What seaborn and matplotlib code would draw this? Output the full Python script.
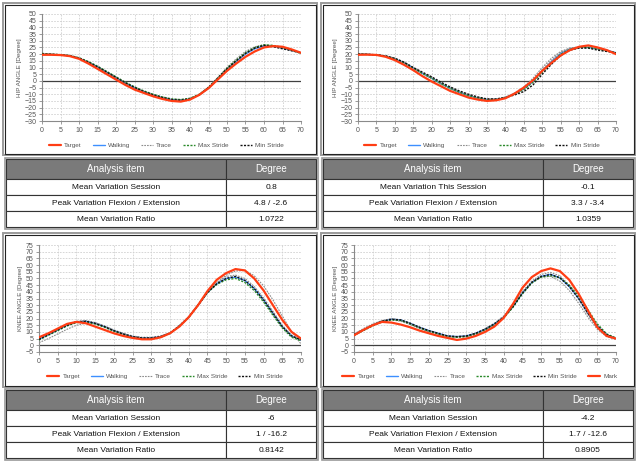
import numpy as np
import pandas as pd
import matplotlib
matplotlib.use("Agg")
import matplotlib.pyplot as plt
from matplotlib.patches import Rectangle
from matplotlib.lines import Line2D
import seaborn as sns

# Eixo X comum (0 a 70, passo 2.5)
x = np.arange(0, 70.1, 2.5)

# ---- HIP esquerdo ----
hip1_target = [19.5, 19.5, 19.3, 18.5, 16.5, 13.0, 9.0, 5.0, 1.0, -3.0, -6.5, -9.0, -11.5, -13.5, -15.0,
               -15.5, -14.0, -10.5, -5.5, 1.0, 7.5, 13.0, 18.0, 22.0, 25.0, 26.0, 25.5, 23.5, 21.0]
hip1_walking = [20.0, 19.8, 19.5, 18.8, 17.0, 14.0, 10.5, 6.5, 2.5, -1.5, -5.0, -8.0, -10.5, -12.5, -14.0,
                -14.5, -13.5, -10.5, -5.5, 1.5, 8.5, 14.5, 20.0, 24.0, 26.0, 26.0, 24.5, 23.0, 21.0]
hip1_trace_a = [20.0, 19.8, 19.5, 18.8, 17.0, 13.8, 10.0, 6.0, 2.0, -2.0, -5.5, -8.5, -11.0, -13.0, -14.5,
                -15.0, -13.8, -10.5, -5.5, 1.5, 9.0, 15.0, 20.5, 24.5, 26.5, 26.5, 25.0, 23.0, 21.0]
hip1_trace_b = [20.3, 20.0, 19.6, 19.0, 17.2, 14.3, 10.8, 7.0, 3.0, -1.0, -4.5, -7.5, -10.0, -12.0, -13.5,
                -14.0, -13.0, -10.0, -4.5, 2.5, 10.0, 16.5, 22.0, 25.5, 27.0, 26.0, 24.5, 22.5, 20.5]
hip1_max = [20.5, 20.0, 19.6, 19.0, 17.3, 14.5, 11.0, 7.0, 3.0, -1.0, -4.5, -7.5, -10.0, -12.0, -13.5,
            -14.0, -13.0, -10.0, -5.0, 2.0, 9.5, 15.5, 21.0, 25.0, 27.0, 26.5, 25.0, 23.0, 20.5]
hip1_min = [20.0, 19.8, 19.4, 18.7, 17.0, 14.0, 10.5, 6.5, 2.5, -1.5, -5.0, -8.0, -10.5, -12.5, -14.0,
            -14.5, -13.5, -10.5, -5.0, 2.0, 9.0, 15.0, 20.5, 24.5, 26.5, 25.5, 24.0, 22.5, 21.0]

# ---- HIP direito ----
hip2_target = [19.5, 19.6, 19.4, 18.0, 15.5, 12.0, 8.0, 3.5, -0.5, -4.0, -7.5, -10.0, -12.5, -14.0, -15.0,
               -14.5, -13.0, -9.5, -5.0, 0.5, 7.5, 13.5, 19.0, 23.0, 25.5, 26.5, 25.0, 23.0, 20.0]
hip2_walking = [20.0, 19.8, 19.4, 18.5, 16.5, 13.5, 9.5, 5.5, 2.0, -2.0, -5.5, -8.5, -11.0, -12.8, -14.0,
                -14.0, -12.5, -9.5, -6.0, -0.5, 7.5, 14.5, 20.5, 24.0, 25.0, 25.0, 24.0, 23.0, 21.0]
hip2_trace_a = [20.0, 19.8, 19.5, 18.5, 16.5, 13.5, 9.5, 5.5, 1.5, -2.5, -6.0, -9.0, -11.5, -13.0, -14.0,
                -14.0, -12.5, -9.0, -4.5, 2.0, 10.0, 17.0, 22.0, 24.5, 25.0, 25.0, 24.0, 22.5, 21.0]
hip2_trace_b = [20.3, 20.0, 19.6, 18.8, 17.0, 14.0, 10.0, 6.0, 2.5, -1.5, -5.0, -8.0, -10.5, -12.5, -13.5,
                -13.5, -12.0, -9.5, -5.5, 0.5, 8.5, 15.5, 21.5, 24.5, 25.5, 25.0, 24.0, 22.5, 21.0]
hip2_max = [20.0, 19.8, 19.4, 18.5, 16.5, 13.5, 9.5, 5.5, 2.0, -2.0, -5.5, -8.5, -11.0, -12.8, -14.0,
            -14.0, -12.5, -10.0, -6.5, -1.0, 6.5, 13.5, 20.0, 23.5, 25.0, 25.0, 24.0, 22.5, 21.0]
hip2_min = [20.0, 19.8, 19.5, 18.6, 16.8, 14.0, 10.0, 6.5, 3.0, -1.0, -4.5, -7.5, -10.0, -12.0, -13.5,
            -13.5, -12.5, -10.5, -8.0, -3.0, 5.0, 12.5, 19.0, 23.0, 24.5, 24.5, 23.0, 22.0, 21.0]

# ---- KNEE esquerdo ----
knee1_target = [6.0, 9.0, 12.5, 16.0, 17.5, 16.5, 14.0, 11.5, 9.0, 7.0, 5.5, 4.5, 4.5, 6.0, 9.0,
                14.0, 21.0, 30.0, 40.5, 49.0, 54.0, 57.0, 56.0, 50.0, 41.0, 30.0, 19.0, 10.0, 5.0]
knee1_walking = [4.5, 8.0, 11.5, 15.0, 17.5, 18.0, 16.5, 14.0, 11.0, 8.5, 6.5, 5.5, 5.5, 6.5, 9.0,
                 14.5, 21.0, 30.0, 39.5, 46.0, 50.0, 51.0, 48.5, 42.5, 34.0, 24.0, 14.0, 7.0, 4.0]
knee1_trace_a = [2.0, 5.0, 8.5, 12.0, 15.0, 16.5, 16.0, 14.0, 11.0, 8.5, 6.5, 5.5, 5.0, 6.0, 9.0,
                 14.0, 21.0, 30.0, 39.0, 46.5, 52.5, 55.5, 56.0, 52.0, 44.5, 34.0, 22.0, 10.0, 1.0]
knee1_trace_b = [5.0, 8.5, 12.0, 15.5, 18.0, 18.5, 17.0, 14.5, 11.5, 9.0, 7.0, 6.0, 6.0, 7.0, 9.5,
                 14.5, 21.5, 30.5, 40.0, 47.0, 51.5, 52.5, 50.0, 44.0, 35.5, 25.5, 15.0, 7.5, 4.0]
knee1_max = [4.0, 7.5, 11.0, 14.5, 17.0, 17.5, 16.0, 13.5, 10.5, 8.0, 6.0, 5.0, 5.0, 6.0, 9.0,
             14.5, 21.0, 30.0, 39.5, 45.5, 49.0, 50.0, 47.0, 41.0, 32.5, 22.5, 13.0, 6.0, 3.5]
knee1_min = [4.5, 8.0, 11.5, 15.0, 17.5, 18.0, 16.5, 14.0, 11.0, 8.5, 6.5, 5.5, 5.5, 6.5, 9.0,
             14.5, 21.0, 30.0, 39.5, 46.0, 50.0, 51.5, 48.5, 42.5, 34.0, 24.0, 14.0, 7.0, 4.0]

# ---- KNEE direito ----
knee2_target = [7.5, 11.5, 15.0, 17.5, 17.0, 15.5, 13.5, 11.0, 9.0, 7.0, 5.5, 4.0, 5.0, 7.0, 10.0,
                14.0, 20.5, 31.0, 43.0, 51.0, 55.5, 57.5, 55.5, 49.0, 38.5, 26.0, 13.5, 7.0, 5.0]
knee2_walking = [8.0, 11.5, 15.0, 18.0, 19.5, 19.0, 16.5, 13.5, 11.0, 9.0, 7.0, 6.5, 7.0, 9.0, 12.0,
                 16.0, 21.0, 29.0, 39.0, 47.0, 51.5, 53.0, 50.5, 44.0, 35.0, 24.0, 14.5, 8.0, 5.0]
knee2_trace_a = [7.0, 11.0, 15.5, 18.5, 20.0, 19.0, 16.5, 13.5, 11.0, 9.0, 7.0, 6.5, 7.0, 9.0, 12.5,
                 16.5, 22.0, 30.0, 40.0, 48.0, 53.0, 54.5, 52.0, 45.0, 35.0, 23.0, 13.0, 7.0, 4.5]
knee2_trace_b = [8.5, 12.5, 16.0, 18.5, 19.0, 18.0, 15.5, 12.5, 10.0, 8.0, 6.5, 6.0, 6.5, 8.0, 11.0,
                 15.0, 20.5, 29.5, 40.0, 47.5, 51.0, 51.5, 48.0, 41.0, 31.5, 21.0, 12.0, 6.5, 4.5]
knee2_max = [7.5, 11.0, 14.5, 17.5, 19.0, 18.5, 16.0, 13.0, 10.5, 8.5, 6.5, 6.0, 6.5, 8.5, 11.5,
             15.5, 20.5, 28.5, 38.5, 46.5, 51.0, 52.0, 50.5, 45.0, 37.0, 26.5, 16.0, 8.5, 5.5]
knee2_min = [8.0, 11.5, 15.0, 18.0, 19.5, 19.0, 16.5, 13.5, 11.0, 9.0, 7.0, 6.5, 7.0, 9.0, 12.0,
             16.0, 21.0, 29.0, 39.0, 47.0, 51.5, 53.0, 50.5, 44.0, 35.0, 24.0, 14.5, 8.0, 5.0]

# Tabelas
itens = ["Mean Variation Session", "Peak Variation Flexion / Extension", "Mean Variation Ratio"]
itens2 = ["Mean Variation This Session", "Peak Variation Flexion / Extension", "Mean Variation Ratio"]
graus1 = ["0.8", "4.8 / -2.6", "1.0722"]
graus2 = ["-0.1", "3.3 / -3.4", "1.0359"]
graus3 = ["-6", "1 / -16.2", "0.8142"]
graus4 = ["-4.2", "1.7 / -12.6", "0.8905"]
cabecalho = ["Analysis item", "Degree"]

sns.set_style("white")
plt.rcParams["font.family"] = ["Liberation Sans", "DejaVu Sans"]

W, H = 639, 462
fig = plt.figure(figsize=(W / 100, H / 100), dpi=100)


def px(x0, y0, x1, y1):
    # converte pixels (topo-esquerda) em fração da figura
    return [x0 / W, 1 - y1 / H, (x1 - x0) / W, (y1 - y0) / H]


def moldura(x0, y0, x1, y1):
    l, b, w, h = px(x0, y0, x1, y1)
    fig.patches.append(Rectangle((l, b), w, h, transform=fig.transFigure, fill=False,
                                 edgecolor="#9a9a9a", lw=1.4, zorder=0))
    l, b, w, h = px(x0 + 1.5, y0 + 1.5, x1 - 1.5, y1 - 1.5)
    fig.patches.append(Rectangle((l, b), w, h, transform=fig.transFigure, fill=False,
                                 edgecolor="#222222", lw=0.8, zorder=0))


def grafico(pos, target, walking, traces, vmax, vmin, ylim, ylabel, mark=False):
    ax = fig.add_axes(pos)
    ax.axhline(0, color="#404040", lw=0.9, zorder=1)
    sns.lineplot(x=x, y=target, ax=ax, color="#ff3d14", lw=1.6, label="Target", zorder=6)
    sns.lineplot(x=x, y=walking, ax=ax, color="#3d8fff", lw=1.0, label="Walking", zorder=2)
    for i, tr in enumerate(traces):
        sns.lineplot(x=x, y=tr, ax=ax, color="#8c8c8c", lw=0.8, linestyle=(0, (1.5, 1)),
                     label="Trace" if i == 0 else "_nolegend_", zorder=3)
    sns.lineplot(x=x, y=vmax, ax=ax, color="#2a8a2a", lw=1.0, linestyle=(0, (1.5, 1)),
                 label="Max Stride", zorder=4)
    sns.lineplot(x=x, y=vmin, ax=ax, color="#111111", lw=1.0, linestyle=(0, (1.5, 1)),
                 label="Min Stride", zorder=5)
    ax.set_xlim(0, 70)
    ax.set_ylim(*ylim)
    ax.set_xticks(range(0, 71, 5))
    ax.set_yticks(range(ylim[0], ylim[1] + 1, 5))
    ax.grid(True, color="#d0d0d0", lw=0.6, linestyle=(0, (2, 1.5)))
    for s in ["top", "right"]:
        ax.spines[s].set_visible(False)
    for s in ["left", "bottom"]:
        ax.spines[s].set_color("#8a8a8a")
        ax.spines[s].set_linewidth(0.8)
    ax.tick_params(labelsize=5, colors="#8a8a8a", labelcolor="#555555", length=2.5, width=0.6,
                   pad=1.5, left=True, bottom=True)
    ax.set_ylabel(ylabel, fontsize=4.5, color="#555555", labelpad=2)
    ax.set_xlabel("")
    handles, labels = ax.get_legend_handles_labels()
    if mark:
        handles.append(Line2D([], [], color="#ff3d14", lw=1.6))
        labels.append("Mark")
    ax.legend(handles, labels, loc="center", bbox_to_anchor=(0.48, -0.225), ncol=len(labels),
              frameon=False, fontsize=4.6, handlelength=1.9, columnspacing=1.7, handletextpad=0.5,
              labelcolor="#555555")
    return ax


def tabela(box, col1, col2):
    x0, y0, x1, y1 = box
    ax = fig.add_axes(px(x0, y0, x1, y1))
    ax.axis("off")
    dados = [cabecalho] + [[a, b] for a, b in zip(col1, col2)]
    tb = ax.table(cellText=dados, cellLoc="center", bbox=[0, 0, 1, 1], colWidths=[0.71, 0.29])
    tb.auto_set_font_size(False)
    alturas = [0.3, 0.233, 0.233, 0.234]
    for (r, c), cell in tb.get_celld().items():
        cell.set_edgecolor("#333333")
        cell.set_linewidth(0.8)
        cell.set_height(alturas[r])
        if r == 0:
            cell.set_facecolor("#7a7a7a")
            cell.get_text().set_color("white")
            cell.get_text().set_fontsize(7)
        else:
            cell.set_facecolor("white")
            cell.get_text().set_color("#111111")
            cell.get_text().set_fontsize(6)
    l, b, w, h = px(x0 - 1.5, y0 - 1.5, x1 + 1.5, y1 + 1.5)
    fig.patches.append(Rectangle((l, b), w, h, transform=fig.transFigure, fill=False,
                                 edgecolor="#9a9a9a", lw=1.2, zorder=0))


# Molduras dos gráficos
moldura(3, 3, 317, 155)
moldura(321, 3, 635, 155)
moldura(3, 233, 317, 387)
moldura(321, 233, 635, 387)

grafico(px(42, 14, 301, 121), hip1_target, hip1_walking, [hip1_trace_a, hip1_trace_b],
        hip1_max, hip1_min, (-30, 50), "HIP ANGLE [Degree]")
grafico(px(358, 14, 616, 121), hip2_target, hip2_walking, [hip2_trace_a, hip2_trace_b],
        hip2_max, hip2_min, (-30, 50), "HIP ANGLE [Degree]")
grafico(px(39, 245, 301, 352), knee1_target, knee1_walking, [knee1_trace_a, knee1_trace_b],
        knee1_max, knee1_min, (-5, 75), "KNEE ANGLE [Degree]")
grafico(px(354, 245, 616, 352), knee2_target, knee2_walking, [knee2_trace_a, knee2_trace_b],
        knee2_max, knee2_min, (-5, 75), "KNEE ANGLE [Degree]", mark=True)

tabela((6, 159, 316, 227), itens, graus1)
tabela((323, 159, 633, 227), itens2, graus2)
tabela((6, 390, 316, 458), itens, graus3)
tabela((323, 390, 633, 458), itens, graus4)

fig.savefig("out.png", dpi=100)
